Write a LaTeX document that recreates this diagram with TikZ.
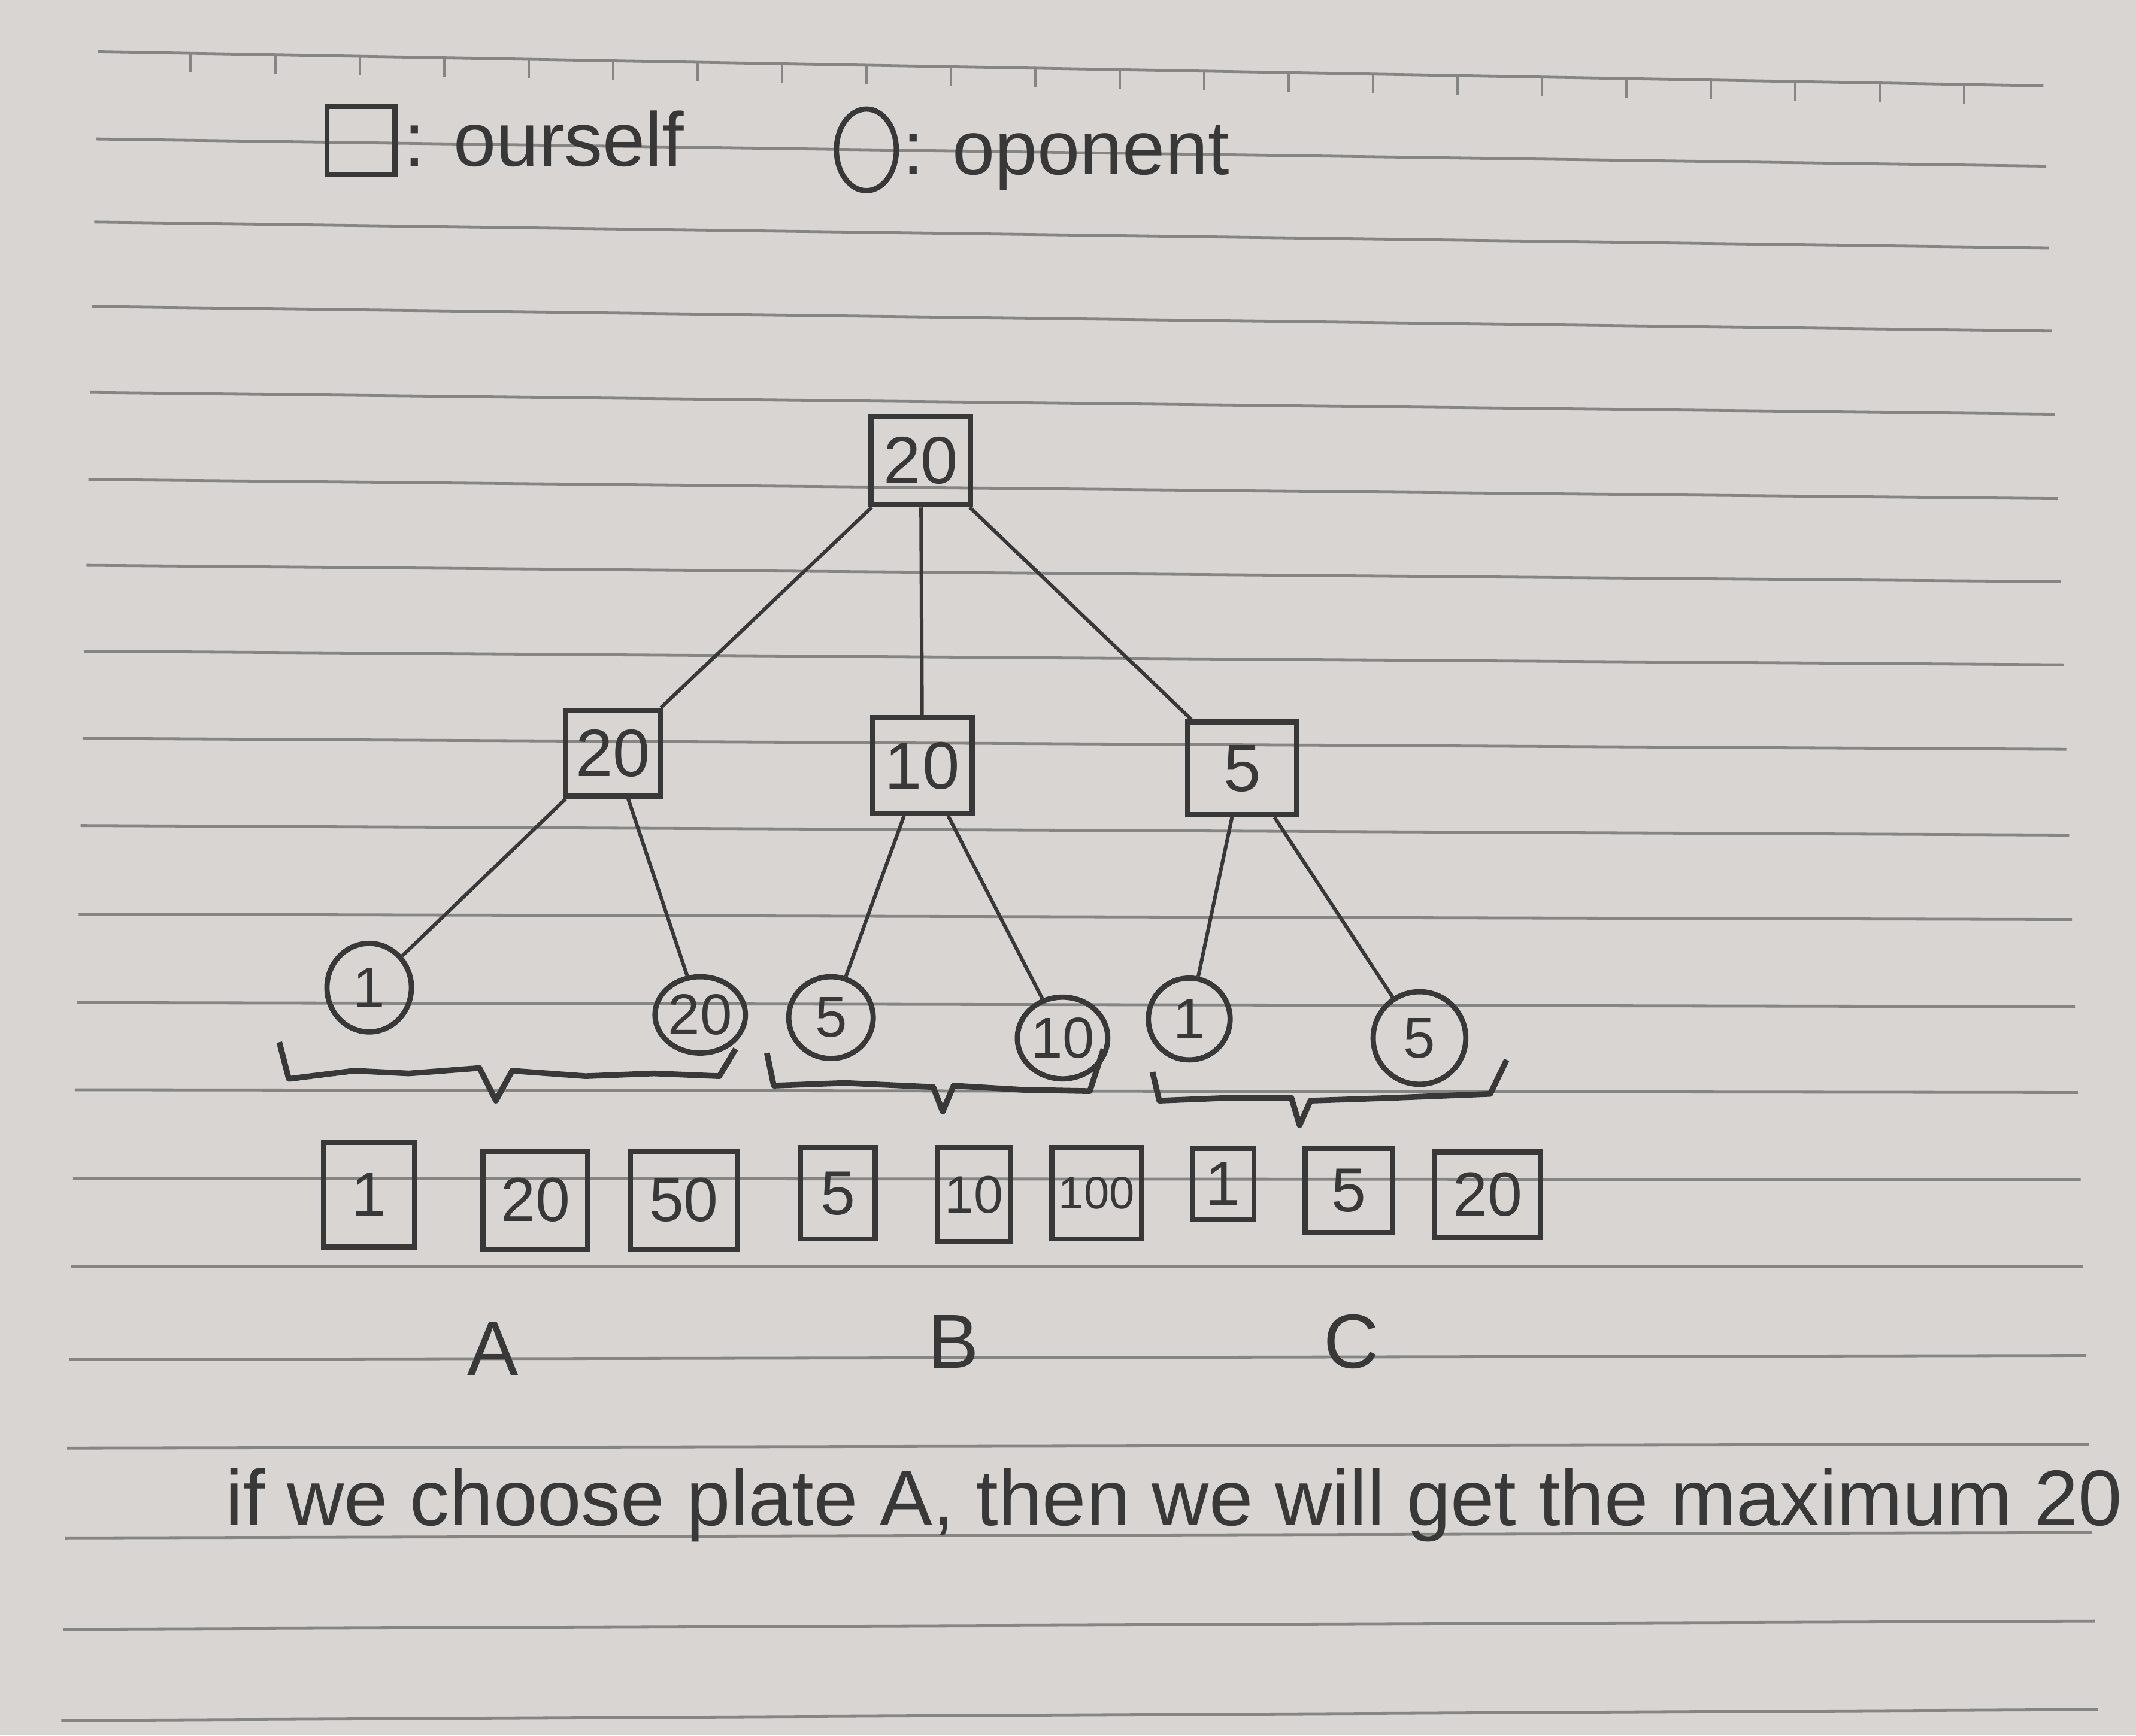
\documentclass[tikz,border=0pt]{standalone}
\usepackage{fontspec}
\setmainfont{Liberation Sans}
\usetikzlibrary{calc,shapes.geometric}
\definecolor{paper}{HTML}{D8D5D2}
\definecolor{rule}{HTML}{858583}
\definecolor{inkc}{HTML}{383838}
\begin{document}
\begin{tikzpicture}[x=0.1mm,y=-0.1mm,
  ink/.style={draw=inkc,line width=1.1pt},
  wire/.style={draw=inkc,line width=0.75pt},
  sq/.style={ink,rectangle,inner sep=0pt,text=inkc,font=\fontsize{14}{14}\selectfont},
  circ/.style={ink,ellipse,inner sep=0pt,text=inkc,font=\fontsize{12}{12}\selectfont},
  leaf/.style={ink,rectangle,inner sep=0pt,text=inkc,font=\fontsize{13}{13}\selectfont},
  brace/.style={draw=inkc,line width=1.2pt,line join=round},
  lbl/.style={text=inkc,font=\fontsize{16}{16}\selectfont,inner sep=0pt},
  ruled/.style={draw=rule,line width=0.6pt}]
% paper
\fill[paper] (0,0) rectangle (1568,1274);
\useasboundingbox (0,0) rectangle (1568,1274);
% ruled lines
\foreach \yl/\yr [count=\i] in {38/63,102/122,163/182,225/243,288/304,352/366,415/427,478/488,542/550,606/613,671/675,736/739,800/802,865/866,930/930,998/995,1063/1060,1129/1125,1196/1190,1263/1255}{
  \pgfmathsetmacro{\xl}{72-27/19*(\i-1)}
  \pgfmathsetmacro{\xr}{1500+40/19*(\i-1)}
  \draw[ruled] (\xl,\yl) -- (\xr,\yr);
}
% tick marks on top line
\foreach \tx in {140,202,264,326,388,450,512,574,636,698,760,822,884,946,1008,1070,1132,1194,1256,1318,1380,1442}{
  \pgfmathsetmacro{\ty}{38+25/1428*(\tx-72)}
  \pgfmathsetmacro{\tyb}{\ty+14}
  \draw[rule,line width=0.5pt] (\tx,\ty) -- (\tx,\tyb);
}
% legend
\node[ink,rectangle,minimum width=5mm,minimum height=5mm] (legsq) at (265,103) {};
\node[lbl,anchor=base west] (legsqt) at (296,122) {: ourself};
\node[ink,ellipse,minimum width=4.4mm,minimum height=6mm,inner sep=0pt] (legci) at (636,110) {};
\node[lbl,anchor=base west] (legcit) at (662,128) {: oponent};
% tree: root and our moves
\node[sq,minimum width=7.3mm,minimum height=6.5mm] (root) at (676,338) {20};
\node[sq,minimum width=7.0mm,minimum height=6.3mm] (a) at (450,553) {20};
\node[sq,minimum width=7.3mm,minimum height=7.0mm] (b) at (677,562) {10};
\node[sq,minimum width=8.0mm,minimum height=6.8mm] (c) at (912,564) {5};
% opponent circles
\node[circ,minimum width=6.2mm,minimum height=6.5mm] (a1) at (271,725) {1};
\node[circ,minimum width=5.8mm,minimum height=5.6mm] (a2) at (514,745) {20};
\node[circ,minimum width=6.2mm,minimum height=6.0mm] (b1) at (610,747) {5};
\node[circ,minimum width=6.6mm,minimum height=6.0mm] (b2) at (780,762) {10};
\node[circ,minimum width=6.0mm,minimum height=6.0mm] (c1) at (873,748) {1};
\node[circ,minimum width=6.8mm,minimum height=6.8mm] (c2) at (1042,762) {5};
% connectors
\draw[wire] (root) -- (a);
\draw[wire] (root) -- (b);
\draw[wire] (root) -- (c);
\draw[wire] (a) -- (a1);
\draw[wire] (a) -- (a2);
\draw[wire] (b) -- (b1);
\draw[wire] (b) -- (b2);
\draw[wire] (c) -- (c1);
\draw[wire] (c) -- (c2);
% braces
\draw[brace] (205,765) -- (212,792) -- (260,786) -- (300,788) -- (352,784) -- (364,808) -- (376,786) -- (430,790) -- (480,788) -- (528,790) -- (540,770);
\draw[brace] (563,773) -- (568,797) -- (620,795) -- (685,798) -- (692,816) -- (700,797) -- (750,800) -- (800,801) -- (810,770);
\draw[brace] (846,787) -- (851,808) -- (900,806) -- (948,806) -- (954,826) -- (962,808) -- (1020,806) -- (1094,803) -- (1106,778);
% plates (leaf boxes)
\node[leaf,minimum width=6.7mm,minimum height=7.7mm] (l1) at (271,877) {1};
\node[leaf,minimum width=7.7mm,minimum height=7.2mm] (l2) at (393,881) {20};
\node[leaf,minimum width=7.9mm,minimum height=7.2mm] (l3) at (502,881) {50};
\node[leaf,minimum width=5.5mm,minimum height=6.7mm] (l4) at (615,876) {5};
\node[leaf,minimum width=5.4mm,minimum height=6.9mm,font=\fontsize{11}{11}\selectfont] (l5) at (715,877) {10};
\node[leaf,minimum width=6.6mm,minimum height=6.7mm,font=\fontsize{9.5}{9.5}\selectfont] (l6) at (805,876) {100};
\node[leaf,minimum width=4.5mm,minimum height=5.2mm] (l7) at (898,869) {1};
\node[leaf,minimum width=6.4mm,minimum height=6.2mm] (l8) at (990,874) {5};
\node[leaf,minimum width=7.8mm,minimum height=6.3mm] (l9) at (1092,877) {20};
% plate labels
\node[lbl] (labA) at (362,990) {A};
\node[lbl] (labB) at (700,985) {B};
\node[lbl] (labC) at (992,985) {C};
% conclusion
\node[lbl,anchor=base west,font=\fontsize{16.5}{16.5}\selectfont] (concl) at (165,1120) {if we choose plate A, then we will get the maximum 20};
\end{tikzpicture}
\end{document}
